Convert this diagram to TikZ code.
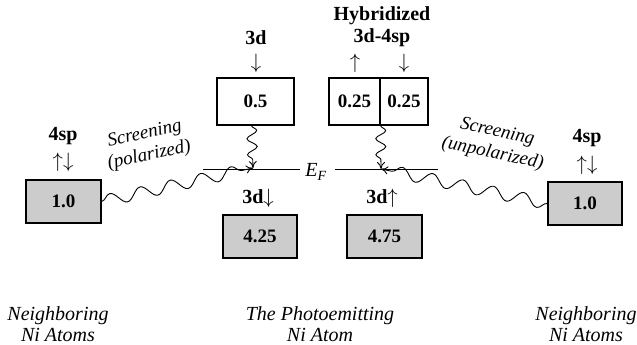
\documentclass[tikz,border=0pt]{standalone}
\usepackage{fontspec}
\setmainfont{Liberation Serif}
\usetikzlibrary{decorations.pathmorphing,arrows.meta,calc}
\begin{document}
\begin{tikzpicture}[x=1pt,y=-1pt,
  lvl/.style={draw,line width=1.3pt,inner sep=0pt,font=\fontsize{19}{21}\selectfont\bfseries},
  filled/.style={lvl,fill=black!20},
  lab/.style={font=\fontsize{20}{22}\selectfont\bfseries,inner sep=0pt},
  arr/.style={font=\fontsize{21}{22}\selectfont,inner sep=0pt},
  ital/.style={font=\fontsize{20}{21}\selectfont\itshape,align=center,inner sep=0pt},
  scr/.style={font=\fontsize{19}{22}\selectfont\itshape,align=center,inner sep=0pt},
  wave/.style={line width=0.9pt,decorate,-{To[length=7pt,width=8pt]}},
]
\useasboundingbox (0,0) rectangle (637,345);
% boxes
\node[lvl,minimum width=77pt,minimum height=47pt] (b05) at (255.5,101.5) {0.5};
\node[lvl,minimum width=51pt,minimum height=47pt] (h1) at (354.5,101.5) {0.25};
\node[lvl,minimum width=48pt,minimum height=47pt] (h2) at (404,101.5) {0.25};
\node[filled,minimum width=75pt,minimum height=43pt] (nl) at (63.5,201.5) {1.0};
\node[filled,minimum width=74pt,minimum height=43pt] (d425) at (260,236.5) {4.25};
\node[filled,minimum width=75pt,minimum height=43pt] (d475) at (384.5,236.5) {4.75};
\node[filled,minimum width=74pt,minimum height=43pt] (nr) at (585,203.5) {1.0};
% labels
\node[lab] (l3d) at (256,38) {3d};
\node[arr] (a3d) at (256,63) {$\downarrow$};
\node[lab] (hyb) at (382,16) {Hybridized};
\node[lab] (hyb2) at (382,38) {3d-4sp};
\node[arr] (hu) at (355,63) {$\uparrow$};
\node[arr] (hd) at (404,63) {$\downarrow$};
\node[lab] (sl) at (63,136) {4sp};
\node[arr] (sla) at (63,162) {$\uparrow\downarrow$};
\node[lab] (sr) at (587,138) {4sp};
\node[arr] (sra) at (587,165) {$\uparrow\downarrow$};
\node[lab] (ldn) at (258,198) {3d$\downarrow$};
\node[lab] (lup) at (382,198) {3d$\uparrow$};
% Fermi level
\node[ital] (ef) at (316,172) {E\textsubscript{F}};
\coordinate (efa) at (203,169);
\coordinate (efb) at (300,169);
\coordinate (efc) at (335,169);
\coordinate (efd) at (438,169);
\draw[line width=0.9pt] (efa) -- (efb);
\draw[line width=0.9pt] (efc) -- (efd);
\coordinate (tl) at (253,168);
\coordinate (tr) at (381,169);
% waves
\draw[wave,decoration={snake,amplitude=5pt,segment length=16pt,post length=8pt}] ($(b05.south)+(-4,0)$) -- (tl);
\draw[wave,decoration={snake,amplitude=5pt,segment length=16pt,post length=8pt}] (h1.south east) -- (tr);
\draw[wave,decoration={snake,amplitude=6pt,segment length=31pt,post length=9pt}] (nl.east) -- (tl);
\draw[wave,decoration={snake,amplitude=6pt,segment length=31pt,post length=9pt}] (nr.west) -- (tr);
% screening labels
\node[scr,rotate=12] (scl) at (147,145) {Screening\\(polarized)};
\node[scr,rotate=-12] (scr) at (495,143) {Screening\\(unpolarized)};
% bottom
\node[ital] (bl) at (58,324) {Neighboring\\Ni Atoms};
\node[ital] (bm) at (320,324) {The Photoemitting\\Ni Atom};
\node[ital] (br) at (586,324) {Neighboring\\Ni Atoms};
\end{tikzpicture}
\end{document}
